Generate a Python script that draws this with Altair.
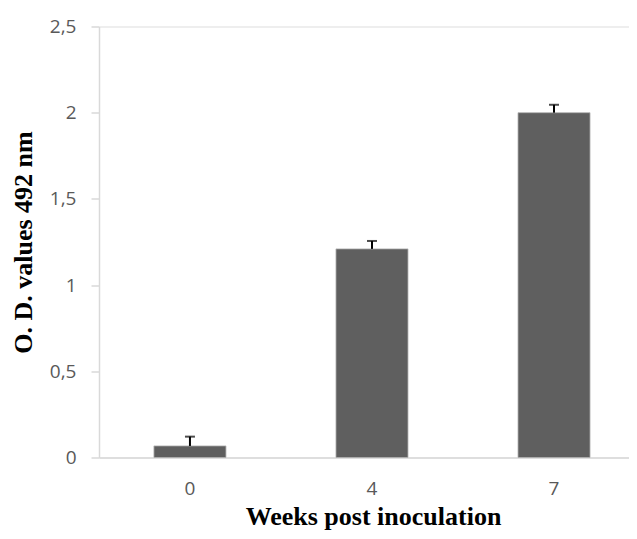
import altair as alt
import pandas as pd

weeks = ["0", "4", "7"]
od_values = [0.067, 1.21, 2.0]
od_error = [0.054, 0.046, 0.046]

df = pd.DataFrame({
    "week": weeks,
    "od": od_values,
    "upper": [v + e for v, e in zip(od_values, od_error)],
})

x_scale = alt.Scale(paddingInner=0.6044, paddingOuter=0.258, align=0.585)
y_scale = alt.Scale(domain=[0, 2.5], nice=False)

x_enc = alt.X(
    "week:N",
    sort=weeks,
    scale=x_scale,
    axis=alt.Axis(
        title="Weeks post inoculation",
        labelAngle=0,
        ticks=False,
        labelPadding=22,
        labelFont="Open Sans",
        labelFontSize=19,
        labelColor="#595959",
        domainColor="#d9d9d9",
        domainWidth=1.5,
        titleFont="Liberation Serif",
        titleFontSize=26,
        titleFontWeight="bold",
        titleColor="#000000",
        titleX=274,
        titleY=67,
        titleBaseline="alphabetic",
        titleAlign="center",
    ),
)

y_axis = alt.Axis(
    title="O. D. values 492 nm",
    values=[0, 0.5, 1, 1.5, 2, 2.5],
    labelExpr="replace(toString(datum.value), '.', ',')",
    grid=False,
    tickSize=8,
    tickColor="#d9d9d9",
    tickWidth=1.5,
    domainColor="#d9d9d9",
    domainWidth=1.5,
    labelPadding=15,
    labelFont="Open Sans",
    labelFontSize=19,
    labelColor="#595959",
    titleFont="Liberation Serif",
    titleFontSize=26,
    titleFontWeight="bold",
    titleColor="#000000",
    titleAngle=270,
    titleX=-76,
    titleY=215.5,
    titleBaseline="middle",
    titleAlign="center",
)

bars = alt.Chart(df).mark_bar(
    color="#5f5f5f", stroke="#b0b0b0", strokeWidth=0.8
).encode(
    x=x_enc,
    y=alt.Y("od:Q", scale=y_scale, axis=y_axis),
)

err_line = alt.Chart(df).mark_rule(color="#000000", strokeWidth=2).encode(
    x=alt.X("week:N", sort=weeks, scale=x_scale),
    y=alt.Y("od:Q", scale=y_scale),
    y2="upper:Q",
)

err_cap = alt.Chart(df).mark_tick(color="#000000", size=10, thickness=2).encode(
    x=alt.X("week:N", sort=weeks, scale=x_scale),
    y=alt.Y("upper:Q", scale=y_scale),
)

chart = alt.layer(bars, err_line, err_cap).properties(
    width=530,
    height=431,
    autosize=alt.AutoSizeParams(type="none"),
    padding={"left": 91, "top": 18.5, "right": 0, "bottom": 73.5},
).configure_view(stroke=None).configure(background="white")

chart.save("out.html", embed_options={"renderer": "svg", "actions": False})
